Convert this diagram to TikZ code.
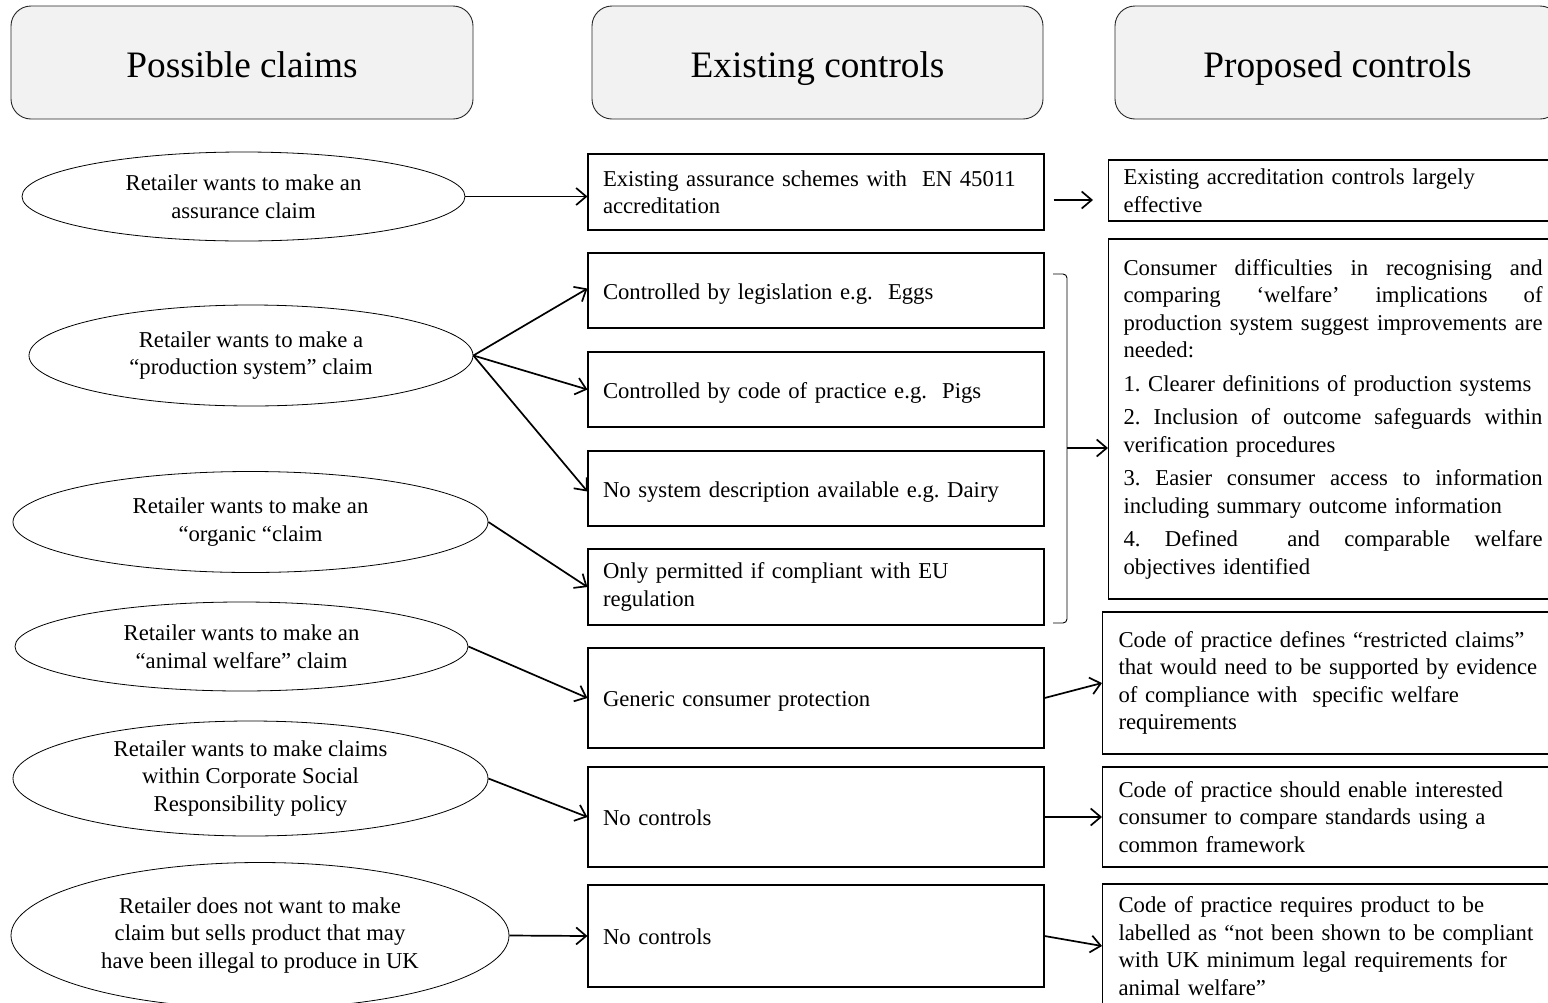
\documentclass[tikz,border=0pt]{standalone}
\usepackage{fontspec}
\setmainfont{Liberation Serif}
\usetikzlibrary{arrows.meta,shapes.geometric,calc}
\newcommand\bodyfont{\fontsize{22.7}{27.5}\selectfont\frenchspacing}
\newcommand\jline[1]{\leavevmode\hbox to 419pt{#1}}
\definecolor{hdrfill}{HTML}{F2F2F2}
\begin{document}
\begin{tikzpicture}[x=1pt,y=-1pt,
  hdr/.style={draw=black!85, fill=hdrfill, rounded corners=20pt, line width=0.9pt,
    minimum height=113pt, inner sep=0pt, text height=30pt, text depth=0pt,
    font=\fontsize{37.3}{44}\selectfont},
  claim/.style={ellipse, draw, line width=0.8pt, inner sep=0pt, align=center, font=\bodyfont},
  ctrl/.style={draw, line width=1.1pt, minimum width=456pt, text width=426pt,
    inner xsep=15pt, inner ysep=0pt, align=left, font=\bodyfont},
  one/.style={text height=19pt, text depth=2pt},
  prop/.style={draw, line width=1.1pt, anchor=west, inner ysep=0pt, align=left, font=\bodyfont},
  arr/.style={-{Straight Barb[length=10pt,width=17pt]}, line width=1.7pt},
  brack/.style={line width=0.9pt, rounded corners=4pt},
]
\useasboundingbox (0,0) rectangle (1548,1002);
\clip (0,0) rectangle (1548,1002);

% headers
\node[hdr, minimum width=462pt] (H1) at (242,62.5) {Possible claims};
\node[hdr, minimum width=451pt] (H2) at (817.5,62.5) {Existing controls};
\node[hdr, minimum width=445pt] (H3) at (1337.5,62.5) {Proposed controls};

% claims
\node[claim, minimum width=443pt, minimum height=89pt] (E1) at (243.5,196.5)
  {Retailer wants to make an\\assurance claim};
\node[claim, minimum width=444pt, minimum height=101pt] (E2) at (251,355.5)
  {Retailer wants to make a\\“production system” claim};
\node[claim, minimum width=475pt, minimum height=101pt] (E3) at (250.5,522)
  {Retailer wants to make an\\“organic “claim};
\node[claim, minimum width=453pt, minimum height=89pt] (E4) at (241.5,646.5)
  {Retailer wants to make an\\“animal welfare” claim};
\node[claim, minimum width=475pt, minimum height=115pt] (E5) at (250.5,778.5)
  {Retailer wants to make claims\\within Corporate Social\\Responsibility policy};
\node[claim, minimum width=498pt, minimum height=146pt] (E6) at (260,935.5)
  {Retailer does not want to make\\claim but sells product that may\\have been illegal to produce in UK};

% existing controls
\node[ctrl, minimum height=76pt] (B1) at (816,192)
  {Existing assurance schemes with\ \ EN 45011\\accreditation};
\node[ctrl, one, minimum height=75pt] (B2) at (816,290.5)
  {Controlled by legislation e.g.\ \ Eggs};
\node[ctrl, one, minimum height=75pt] (B3) at (816,389.5)
  {Controlled by code of practice e.g.\ \ Pigs};
\node[ctrl, one, minimum height=75pt] (B4) at (816,488.5)
  {No system description available e.g. Dairy};
\node[ctrl, minimum height=76pt] (B5) at (816,587)
  {Only permitted if compliant with EU\\regulation};
\node[ctrl, one, minimum height=100pt] (B6) at (816,698)
  {Generic consumer protection};
\node[ctrl, one, minimum height=100pt] (B7) at (816,817)
  {No controls};
\node[ctrl, one, minimum height=102pt] (B8) at (816,936)
  {No controls};

% proposed controls
\node[prop, text width=422pt, inner xsep=15pt, minimum height=61pt] (P1) at (1108,190.5)
  {Existing accreditation controls largely\\effective};
\node[prop, text width=419pt, inner xsep=15pt, minimum height=360pt] (P2) at (1108,419)
  {\jline{Consumer\hfill difficulties\hfill in\hfill recognising\hfill and}\\
   \jline{comparing\hfill ‘welfare’\hfill implications\hfill of}\\
   \jline{production\hfill system\hfill suggest\hfill improvements\hfill are}\\
   needed:\\[6pt]
   1. Clearer definitions of production systems\\[6pt]
   \jline{2.\hfill Inclusion\hfill of\hfill outcome\hfill safeguards\hfill within}\\
   verification procedures\\[6pt]
   \jline{3.\hfill Easier\hfill consumer\hfill access\hfill to\hfill information}\\
   including summary outcome information\\[6pt]
   \jline{4.\hfill Defined\hspace{25pt}\hfill and\hfill comparable\hfill welfare}\\
   objectives identified};
\node[prop, text width=430pt, inner xsep=16pt, minimum height=142pt] (P3) at (1102,683)
  {Code of practice defines “restricted claims”\\that would need to be supported by evidence\\of compliance with\ \ specific welfare\\requirements};
\node[prop, text width=430pt, inner xsep=16pt, minimum height=100pt] (P4) at (1102,817)
  {Code of practice should enable interested\\consumer to compare standards using a\\common framework};
\node[prop, text width=430pt, inner xsep=16pt, minimum height=124pt] (P5) at (1102,946)
  {Code of practice requires product to be\\labelled as “not been shown to be compliant\\with UK minimum legal requirements for\\animal welfare”};

% connectors claims -> existing
\draw[arr] (E1.east) -- (E1.east -| B1.west);
\draw[arr] (E2.east) -- ([yshift=2pt]B2.west);
\draw[arr] (E2.east) -- (B3.west);
\draw[arr] (E2.east) -- ([yshift=-3pt]B4.west);
\draw[arr] (E3.east) -- (B5.west);
\draw[arr] (E4.east) -- (B6.west);
\draw[arr] (E5.east) -- (B7.west);
\draw[arr] (E6.east) -- (B8.west);

% existing -> proposed
\draw[arr] ($(B1.east)+(9,8)$) -- ($(P1.west)+(-15,9.5)$);
\coordinate (bt) at (1053,274);
\coordinate (bb) at (1053,623);
\coordinate (brk) at (1067,448);
\draw[brack] (bt) -- (bt -| brk) -- (bb -| brk) -- (bb);
\draw[arr] (brk) -- (brk -| P2.west);
\draw[arr] (B6.east) -- (P3.west);
\draw[arr] (B7.east) -- (P4.west);
\draw[arr] (B8.east) -- (P5.west);
\end{tikzpicture}
\end{document}
